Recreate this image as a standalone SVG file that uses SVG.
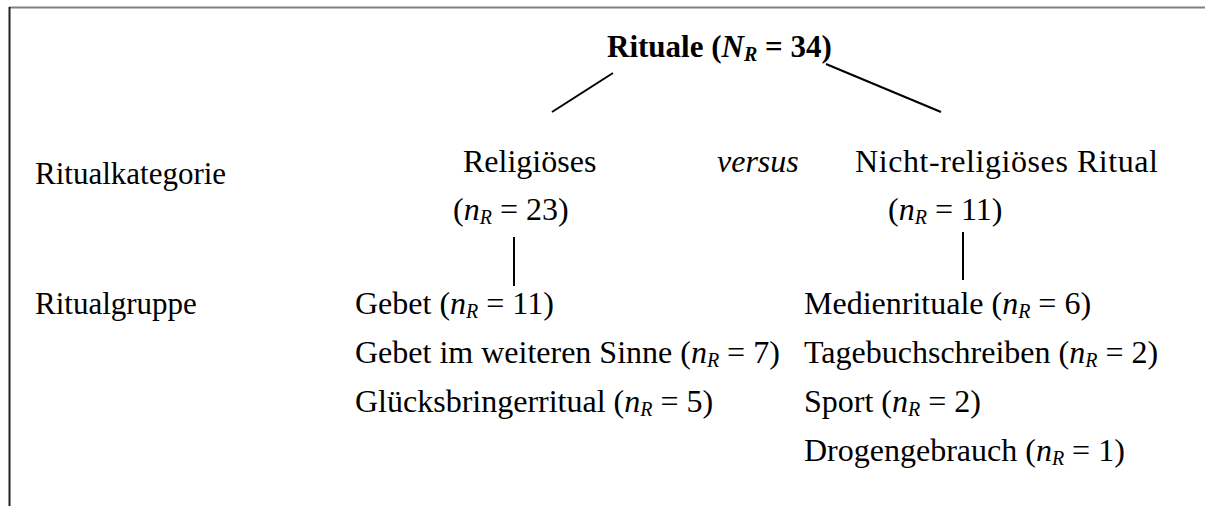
<svg xmlns="http://www.w3.org/2000/svg" width="1205" height="506" viewBox="0 0 1205 506">
  <style>
    text { font-family: "Liberation Serif", "Times New Roman", serif; font-size: 32px; fill: #000; }
    .head { font-weight: bold; font-size: 31px; }
    .label { font-size: 31px; }
    .it { font-style: italic; }
    .sub { font-style: italic; font-size: 20px; }
    .edge { stroke: #000; stroke-width: 2; fill: none; }
  </style>
  <rect width="1205" height="506" fill="#fff"/>
  <!-- frame -->
  <line x1="9" y1="7.5" x2="1205" y2="7.5" stroke="#808080" stroke-width="2"/>
  <line x1="9.5" y1="7" x2="9.5" y2="506" stroke="#222" stroke-width="2"/>

  <!-- connectors -->
  <g id="connectors">
    <line class="edge" x1="613" y1="73" x2="552" y2="112"/>
    <line class="edge" x1="826" y1="64" x2="941" y2="112"/>
    <line class="edge" x1="514" y1="237" x2="514" y2="286"/>
    <line class="edge" x1="963" y1="232" x2="963" y2="280"/>
  </g>

  <g id="root">
    <text class="head" x="607" y="57">Rituale (<tspan class="it">N</tspan><tspan class="sub" dy="4">R</tspan><tspan dy="-4"> = 34)</tspan></text>
  </g>

  <g id="row-labels">
    <text class="label" x="35" y="184">Ritualkategorie</text>
    <text class="label" x="35" y="314">Ritualgruppe</text>
  </g>

  <g id="religious">
    <text x="463" y="172">Religiöses</text>
    <text x="453" y="220">(<tspan class="it">n</tspan><tspan class="sub" dy="4">R</tspan><tspan dy="-4"> = 23)</tspan></text>
  </g>

  <g id="versus">
    <text class="it" x="717" y="172">versus</text>
  </g>

  <g id="nonreligious">
    <text x="855" y="172" textLength="303">Nicht-religiöses Ritual</text>
    <text x="888" y="220">(<tspan class="it">n</tspan><tspan class="sub" dy="4">R</tspan><tspan dy="-4"> = 11)</tspan></text>
  </g>

  <g id="religious-groups">
    <text x="355" y="314">Gebet (<tspan class="it">n</tspan><tspan class="sub" dy="4">R</tspan><tspan dy="-4"> = 11)</tspan></text>
    <text x="355" y="363">Gebet im weiteren Sinne (<tspan class="it">n</tspan><tspan class="sub" dy="4">R</tspan><tspan dy="-4"> = 7)</tspan></text>
    <text x="355" y="412">Glücksbringerritual (<tspan class="it">n</tspan><tspan class="sub" dy="4">R</tspan><tspan dy="-4"> = 5)</tspan></text>
  </g>

  <g id="nonreligious-groups">
    <text x="804" y="314">Medienrituale (<tspan class="it">n</tspan><tspan class="sub" dy="4">R</tspan><tspan dy="-4"> = 6)</tspan></text>
    <text x="804" y="363">Tagebuchschreiben (<tspan class="it">n</tspan><tspan class="sub" dy="4">R</tspan><tspan dy="-4"> = 2)</tspan></text>
    <text x="804" y="412">Sport (<tspan class="it">n</tspan><tspan class="sub" dy="4">R</tspan><tspan dy="-4"> = 2)</tspan></text>
    <text x="804" y="461">Drogengebrauch (<tspan class="it">n</tspan><tspan class="sub" dy="4">R</tspan><tspan dy="-4"> = 1)</tspan></text>
  </g>
</svg>
